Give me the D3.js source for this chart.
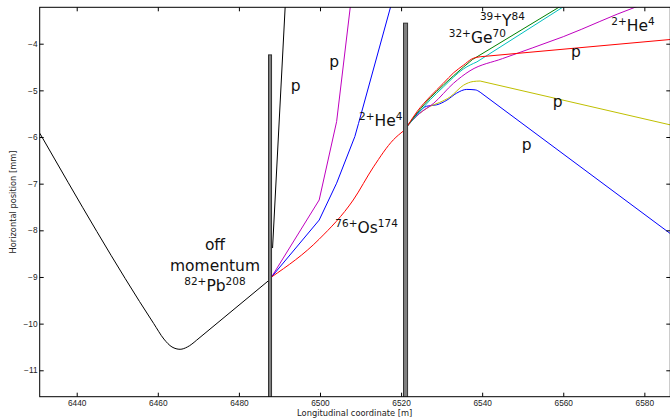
<!DOCTYPE html>
<html>
<head>
<meta charset="utf-8">
<script src="https://cdn.jsdelivr.net/npm/d3@7"></script>
<style>
  body { margin: 0; background: #fff; }
  svg { font-family: "DejaVu Sans", sans-serif; }
  .axis text { font-size: 8.3px; fill: #222; }
  .axis line { stroke: #000; }
  .lbl { font-size: 15.5px; fill: #111; }
  .lbl tspan.sup { font-size: 10.5px; }
</style>
</head>
<body>
<svg id="chart"></svg>
<script>
// trajectories, [longitudinal s (m), horizontal x (mm)]
const pbOffMomentum = [[6430.9, -5.92], [6459.0, -10.0], [6461.5, -10.33], [6463.5, -10.5], [6465.5, -10.55],
  [6467.3, -10.5], [6469.5, -10.36], [6487.3, -9.08]]
const pFirstBlack = [[6488.3, -8.38], [6491.6, -2.9]]
const pFirstMagenta = [[6488.05, -9.0], [6499.8, -7.35], [6504.1, -5.67], [6507.9, -2.9]]
const heFirstBlue = [[6488.05, -9.0], [6499.8, -7.78], [6504.1, -6.99], [6508.6, -5.99], [6509.5, -5.71], [6518.4, -2.9]]
const osRed = [[6488.05, -9.0], [6499.8, -8.19], [6508.2, -7.35], [6513.2, -6.64], [6518.1, -6.06], [6520.6, -5.87]]

const secRed = [[6521.6, -5.76], [6523.9, -5.46], [6527.2, -5.13], [6530.4, -4.85], [6533.0, -4.62], [6535.4, -4.46],
  [6537.4, -4.33], [6539.5, -4.28], [6586.4, -3.91]]
const secGreen = [[6521.6, -5.76], [6524.0, -5.48], [6527.2, -5.16], [6530.4, -4.89], [6535.4, -4.5], [6537.6, -4.34],
  [6563.1, -3.0]]
const secCyan = [[6521.6, -5.76], [6524.0, -5.52], [6527.2, -5.2], [6530.4, -4.93], [6535.4, -4.54], [6538.7, -4.39],
  [6563.8, -3.0]]
const secMagenta = [[6521.6, -5.76], [6524.5, -5.5], [6528.0, -5.28], [6532.9, -4.85], [6537.0, -4.58], [6545.0, -4.32],
  [6560.0, -3.85], [6577.7, -3.22], [6580.0, -3.15]]
const secYellow = [[6521.6, -5.76], [6524.5, -5.5], [6527.2, -5.34], [6529.5, -5.26], [6532.1, -5.14], [6535.4, -4.89],
  [6537.8, -4.81], [6539.5, -4.8], [6586.4, -5.74]]
const secBlue = [[6521.6, -5.76], [6524.0, -5.5], [6526.3, -5.34], [6528.8, -5.31], [6531.3, -5.21], [6533.7, -5.06],
  [6536.2, -4.98], [6538.3, -4.99], [6539.5, -5.04], [6586.4, -8.07]]

// collimators: [s start, s end, top x]
const collimators = [[6487.3, 6488.05, -4.24], [6520.6, 6521.6, -3.56]]

// annotations: [s, x, superscript before, main text, superscript after]
const labels = [
  [6474.1, -8.42, '', 'off', ''],
  [6474.1, -8.87, '', 'momentum', ''],
  [6474.1, -9.29, '82+', 'Pb', '208'],
  [6494.0, -5.01, '', 'p', ''],
  [6503.5, -4.51, '', 'p', ''],
  [6515.0, -5.77, '2+', 'He', '4'],
  [6511.5, -8.06, '76+', 'Os', '174'],
  [6545.0, -3.62, '39+', 'Y', '84'],
  [6538.8, -3.99, '32+', 'Ge', '70'],
  [6577.2, -3.72, '2+', 'He', '4'],
  [6563.1, -4.29, '', 'p', ''],
  [6558.6, -5.36, '', 'p', ''],
  [6551.0, -6.28, '', 'p', '']
]

const xTicks = [6440, 6460, 6480, 6500, 6520, 6540, 6560, 6580]
const yTicks = [-4, -5, -6, -7, -8, -9, -10, -11]

const width = 670
const height = 420
const margin = { left: 39.7, top: 7.3 }
const visWidth = 630.6
const visHeight = 389.4

const svg = d3.select('svg#chart').attr('width', width).attr('height', height)
const g = svg.append('g').attr('transform', 'translate(' + margin.left + ',' + margin.top + ')')

const x = d3.scaleLinear().domain([6430.87, 6586.4]).range([0, visWidth])
const y = d3.scaleLinear().domain([-11.566, -3.22]).range([visHeight, 0])

g.append('clipPath').attr('id', 'clip')
  .append('rect').attr('width', visWidth).attr('height', visHeight)
const plot = g.append('g').attr('clip-path', 'url(#clip)')

const smooth = d3.line().x(d => x(d[0])).y(d => y(d[1])).curve(d3.curveMonotoneX)
const straight = d3.line().x(d => x(d[0])).y(d => y(d[1]))

// [points, colour, smooth part ends at index (the rest is straight)]
const tracks = [
  [pbOffMomentum, 'black', 6],
  [pFirstBlack, 'black', 0],
  [pFirstMagenta, '#bf00bf', 0],
  [heFirstBlue, 'blue', 0],
  [osRed, 'red', 5],
  [secBlue, 'blue', 8],
  [secYellow, '#bfbf00', 7],
  [secMagenta, '#bf00bf', 8],
  [secCyan, '#00bfbf', 5],
  [secGreen, 'green', 5],
  [secRed, 'red', 7]
]
tracks.forEach(t => {
  const k = t[2]
  let d = ''
  if (k > 0) d += smooth(t[0].slice(0, k + 1))
  if (k < t[0].length - 1) d += straight(t[0].slice(k))
  plot.append('path').attr('d', d)
    .attr('fill', 'none').attr('stroke', t[1]).attr('stroke-width', 1)
})

plot.selectAll('rect.coll').data(collimators).enter().append('rect')
  .attr('class', 'coll')
  .attr('x', d => x(d[0]))
  .attr('width', d => x(d[1]) - x(d[0]))
  .attr('y', d => y(d[2]))
  .attr('height', d => y(-11.566) - y(d[2]) + 2)
  .attr('fill', '#808080').attr('stroke', '#333').attr('stroke-width', 1)

// text labels
labels.forEach(l => {
  const t = g.append('text').attr('class', 'lbl')
    .attr('x', x(l[0])).attr('y', y(l[1])).attr('text-anchor', 'middle')
  if (l[2]) t.append('tspan').attr('class', 'sup').attr('dy', -6).text(l[2])
  t.append('tspan').attr('dy', l[2] ? 6 : 0).text(l[3])
  if (l[4]) t.append('tspan').attr('class', 'sup').attr('dy', -6).text(l[4])
})

// axes, ticks inward
g.append('g').attr('class', 'axis').attr('transform', 'translate(0,' + visHeight + ')')
  .call(d3.axisBottom(x).tickValues(xTicks).tickFormat(d3.format('d')).tickSizeInner(-4).tickSizeOuter(0).tickPadding(3))
g.append('g').attr('class', 'axis')
  .call(d3.axisTop(x).tickValues(xTicks).tickFormat('').tickSizeInner(-4).tickSizeOuter(0))
g.append('g').attr('class', 'axis')
  .call(d3.axisLeft(y).tickValues(yTicks).tickSizeInner(-4).tickSizeOuter(0).tickPadding(2.2))
g.append('g').attr('class', 'axis').attr('transform', 'translate(' + visWidth + ',0)')
  .call(d3.axisRight(y).tickValues(yTicks).tickFormat('').tickSizeInner(-4).tickSizeOuter(0))
g.selectAll('.axis .domain').remove()

g.append('rect').attr('width', visWidth).attr('height', visHeight)
  .attr('fill', 'none').attr('stroke', '#000').attr('stroke-width', 1)

g.append('text').attr('class', 'axis-label')
  .attr('x', 315).attr('y', visHeight + 19.5).attr('text-anchor', 'middle')
  .style('font-size', '8.3px').attr('fill', '#222')
  .text('Longitudinal coordinate [m]')
g.append('text').attr('class', 'axis-label')
  .attr('transform', 'translate(' + (-24) + ',' + (visHeight / 2) + ') rotate(-90)')
  .attr('text-anchor', 'middle')
  .style('font-size', '8.3px').attr('fill', '#222')
  .text('Horizontal position [mm]')
</script>
</body>
</html>
